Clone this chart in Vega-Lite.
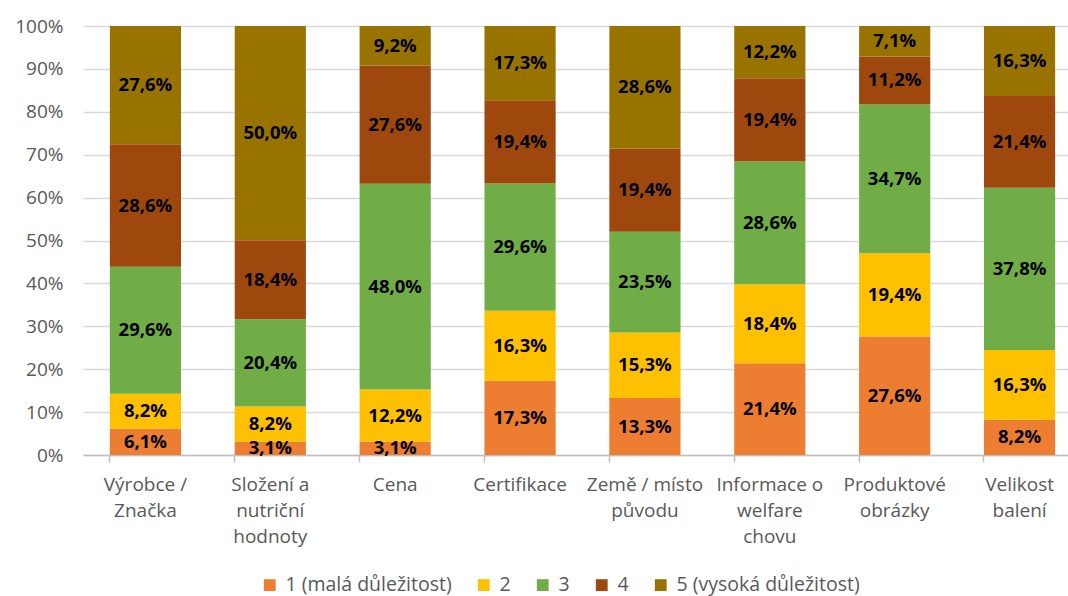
{
  "$schema": "https://vega.github.io/schema/vega-lite/v6.json",
  "autosize": "none",
  "width": 999,
  "height": 429,
  "padding": {"left": 83, "top": 26, "right": 0, "bottom": 141},
  "background": "white",
  "config": {
    "view": {"stroke": null},
    "font": "Open Sans"
  },
  "data": {
    "values": [
      {"cat": "Výrobce /|Značka", "o": 1, "level": "1 (malá důležitost)", "l": 1, "value": 6.1},
      {"cat": "Výrobce /|Značka", "o": 1, "level": "2", "l": 2, "value": 8.2},
      {"cat": "Výrobce /|Značka", "o": 1, "level": "3", "l": 3, "value": 29.6},
      {"cat": "Výrobce /|Značka", "o": 1, "level": "4", "l": 4, "value": 28.6},
      {"cat": "Výrobce /|Značka", "o": 1, "level": "5 (vysoká důležitost)", "l": 5, "value": 27.6},
      {"cat": "Složení a|nutriční|hodnoty", "o": 2, "level": "1 (malá důležitost)", "l": 1, "value": 3.1},
      {"cat": "Složení a|nutriční|hodnoty", "o": 2, "level": "2", "l": 2, "value": 8.2},
      {"cat": "Složení a|nutriční|hodnoty", "o": 2, "level": "3", "l": 3, "value": 20.4},
      {"cat": "Složení a|nutriční|hodnoty", "o": 2, "level": "4", "l": 4, "value": 18.4},
      {"cat": "Složení a|nutriční|hodnoty", "o": 2, "level": "5 (vysoká důležitost)", "l": 5, "value": 50.0},
      {"cat": "Cena", "o": 3, "level": "1 (malá důležitost)", "l": 1, "value": 3.1},
      {"cat": "Cena", "o": 3, "level": "2", "l": 2, "value": 12.2},
      {"cat": "Cena", "o": 3, "level": "3", "l": 3, "value": 48.0},
      {"cat": "Cena", "o": 3, "level": "4", "l": 4, "value": 27.6},
      {"cat": "Cena", "o": 3, "level": "5 (vysoká důležitost)", "l": 5, "value": 9.2},
      {"cat": "Certifikace", "o": 4, "level": "1 (malá důležitost)", "l": 1, "value": 17.3},
      {"cat": "Certifikace", "o": 4, "level": "2", "l": 2, "value": 16.3},
      {"cat": "Certifikace", "o": 4, "level": "3", "l": 3, "value": 29.6},
      {"cat": "Certifikace", "o": 4, "level": "4", "l": 4, "value": 19.4},
      {"cat": "Certifikace", "o": 4, "level": "5 (vysoká důležitost)", "l": 5, "value": 17.3},
      {"cat": "Země / místo|původu", "o": 5, "level": "1 (malá důležitost)", "l": 1, "value": 13.3},
      {"cat": "Země / místo|původu", "o": 5, "level": "2", "l": 2, "value": 15.3},
      {"cat": "Země / místo|původu", "o": 5, "level": "3", "l": 3, "value": 23.5},
      {"cat": "Země / místo|původu", "o": 5, "level": "4", "l": 4, "value": 19.4},
      {"cat": "Země / místo|původu", "o": 5, "level": "5 (vysoká důležitost)", "l": 5, "value": 28.6},
      {"cat": "Informace o|welfare|chovu", "o": 6, "level": "1 (malá důležitost)", "l": 1, "value": 21.4},
      {"cat": "Informace o|welfare|chovu", "o": 6, "level": "2", "l": 2, "value": 18.4},
      {"cat": "Informace o|welfare|chovu", "o": 6, "level": "3", "l": 3, "value": 28.6},
      {"cat": "Informace o|welfare|chovu", "o": 6, "level": "4", "l": 4, "value": 19.4},
      {"cat": "Informace o|welfare|chovu", "o": 6, "level": "5 (vysoká důležitost)", "l": 5, "value": 12.2},
      {"cat": "Produktové|obrázky", "o": 7, "level": "1 (malá důležitost)", "l": 1, "value": 27.6},
      {"cat": "Produktové|obrázky", "o": 7, "level": "2", "l": 2, "value": 19.4},
      {"cat": "Produktové|obrázky", "o": 7, "level": "3", "l": 3, "value": 34.7},
      {"cat": "Produktové|obrázky", "o": 7, "level": "4", "l": 4, "value": 11.2},
      {"cat": "Produktové|obrázky", "o": 7, "level": "5 (vysoká důležitost)", "l": 5, "value": 7.1},
      {"cat": "Velikost|balení", "o": 8, "level": "1 (malá důležitost)", "l": 1, "value": 8.2},
      {"cat": "Velikost|balení", "o": 8, "level": "2", "l": 2, "value": 16.3},
      {"cat": "Velikost|balení", "o": 8, "level": "3", "l": 3, "value": 37.8},
      {"cat": "Velikost|balení", "o": 8, "level": "4", "l": 4, "value": 21.4},
      {"cat": "Velikost|balení", "o": 8, "level": "5 (vysoká důležitost)", "l": 5, "value": 16.3}
    ]
  },
  "transform": [
    {"stack": "value", "groupby": ["cat"], "offset": "normalize", "sort": [{"field": "l", "order": "ascending"}], "as": ["y0", "y1"]},
    {"calculate": "(datum.y0 + datum.y1) / 2", "as": "ymid"},
    {"calculate": "replace(format(datum.value, '.1f'), '.', ',') + '%'", "as": "label"}
  ],
  "encoding": {
    "x": {
      "field": "cat",
      "type": "nominal",
      "sort": {"field": "o", "op": "min"},
      "scale": {"paddingInner": 0.43, "paddingOuter": 0.215},
      "axis": {
        "title": null,
        "labelAngle": 0,
        "labelExpr": "split(datum.label, '|')",
        "labelFont": "Open Sans",
        "labelFontSize": 19,
        "labelColor": "#595959",
        "labelLineHeight": 26,
        "labelPadding": 13,
        "labelBaseline": "top",
        "labelOverlap": false,
        "labelLimit": 200,
        "bandPosition": 0,
        "tickSize": 7,
        "tickColor": "#BFBFBF",
        "tickWidth": 1.5,
        "domainColor": "#BFBFBF",
        "domainWidth": 1.5,
        "grid": false
      }
    }
  },
  "layer": [
    {
      "mark": {"type": "bar"},
      "encoding": {
        "y": {
          "field": "y0",
          "type": "quantitative",
          "scale": {"domain": [0, 1]},
          "axis": {
            "title": null,
            "format": ".0%",
            "values": [0, 0.1, 0.2, 0.3, 0.4, 0.5, 0.6, 0.7, 0.8, 0.9, 1],
            "labelOverlap": false,
            "labelFont": "Open Sans",
            "labelFontSize": 19,
            "labelColor": "#595959",
            "labelPadding": 20,
            "domain": false,
            "ticks": false,
            "gridColor": "#D9D9D9",
            "gridWidth": 1.5
          }
        },
        "y2": {"field": "y1"},
        "color": {
          "field": "level",
          "type": "nominal",
          "scale": {
            "domain": ["1 (malá důležitost)", "2", "3", "4", "5 (vysoká důležitost)"],
            "range": ["#ED7D31", "#FFC000", "#70AD47", "#9E480E", "#997300"]
          },
          "legend": {
            "title": null,
            "orient": "none",
            "direction": "horizontal",
            "legendX": 177,
            "legendY": 549,
            "symbolType": "square",
            "symbolSize": 140,
            "symbolStrokeWidth": 0,
            "labelFont": "Open Sans",
            "labelFontSize": 19.5,
            "labelLimit": 400,
            "labelColor": "#595959",
            "labelOffset": 6,
            "columnPadding": 22
          }
        }
      }
    },
    {
      "mark": {"type": "text", "font": "Open Sans", "fontWeight": "bold", "fontSize": 18.5, "color": "black", "baseline": "middle"},
      "encoding": {
        "y": {"field": "ymid", "type": "quantitative"},
        "text": {"field": "label"}
      }
    }
  ]
}
